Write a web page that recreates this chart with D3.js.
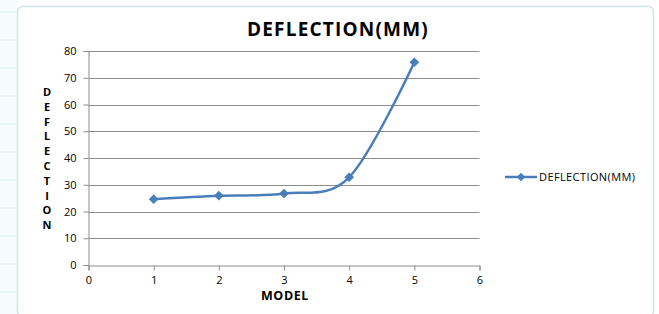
<!DOCTYPE html>
<html><head><meta charset="utf-8">
<script src="https://cdn.jsdelivr.net/npm/d3@7"></script>
<style>body{margin:0;background:#fff}svg{display:block}</style>
</head><body>
<script>
const categories = [1, 2, 3, 4, 5];
const deflection = [24.6, 25.9, 26.7, 32.8, 75.8];
const xTicks = [0, 1, 2, 3, 4, 5, 6];
const yTicks = [0, 10, 20, 30, 40, 50, 60, 70, 80];
const title = "DEFLECTION(MM)";
const seriesName = "DEFLECTION(MM)";
const xTitle = "MODEL";
const yTitle = "DEFLECTION";

const W = 659, H = 314;
const svg = d3.select("body").append("svg").attr("width", W).attr("height", H);

// spreadsheet background strip and chart frame
svg.append("rect").attr("x",0).attr("y",0).attr("width",W).attr("height",H).attr("fill","#fff");
svg.append("rect").attr("x",0).attr("y",0).attr("width",17).attr("height",H).attr("fill","#f6fbfb");
[12,40,68,96,124,152,180,208,236,264,292].forEach(y=>{
  svg.append("line").attr("x1",0).attr("x2",16).attr("y1",y).attr("y2",y).attr("stroke","#dcefef");
});
svg.append("rect").attr("x",17.5).attr("y",6.5).attr("width",636).attr("height",310)
  .attr("rx",5).attr("fill","#fff").attr("stroke","#cde6e6").attr("stroke-width",1.5);

const x = d3.scaleLinear().domain([0,6]).range([88.5,479.5]);
const y = d3.scaleLinear().domain([0,80]).range([265,51]);

const g = svg.append("g");
// gridlines
g.selectAll("line.grid").data(yTicks.filter(d=>d>0)).join("line")
  .attr("x1",x(0)).attr("x2",x(6)).attr("y1",d=>Math.round(y(d))+0.5).attr("y2",d=>Math.round(y(d))+0.5)
  .attr("stroke","#8c8c8c").attr("stroke-width",1);

// axes
const font = "'Open Sans', 'Liberation Sans', sans-serif";
const yAxis = g.append("g").attr("transform",`translate(${x(0)},0)`)
  .call(d3.axisLeft(y).tickValues(yTicks).tickFormat(d3.format("d")).tickSize(5).tickPadding(7));
const xAxis = g.append("g").attr("transform",`translate(0,${Math.round(y(0))+0.5})`)
  .call(d3.axisBottom(x).tickValues(xTicks).tickFormat(d3.format("d")).tickSize(5).tickPadding(6));
[xAxis,yAxis].forEach(a=>{
  a.select(".domain").attr("stroke","#8c8c8c");
  a.selectAll(".tick line").attr("stroke","#8c8c8c");
  a.selectAll("text").attr("font-family",font).attr("font-size",11).attr("fill","#000");
});

// line
const line = d3.line().x((d,i)=>x(categories[i])).y(d=>y(d)).curve(d3.curveCatmullRom.alpha(0));
g.append("path").datum(deflection).attr("d",line).attr("fill","none")
  .attr("stroke","#4a7ebb").attr("stroke-width",2.5);
const diamond = d3.symbol().type(d3.symbolDiamond2).size(60);
g.selectAll("path.pt").data(deflection).join("path")
  .attr("transform",(d,i)=>`translate(${x(categories[i])},${y(d)})`)
  .attr("d",diamond).attr("fill","#4a7ebb");

// title
svg.append("text").attr("x",338).attr("y",36).attr("text-anchor","middle")
  .attr("font-family",font).attr("font-weight","bold").attr("font-size",19)
  .attr("letter-spacing",1.2).text(title);
svg.append("text").attr("x",285).attr("y",300).attr("text-anchor","middle")
  .attr("font-family",font).attr("font-weight","bold").attr("font-size",12.5)
  .attr("letter-spacing",0.6).text(xTitle);
// vertical stacked y title
const yt = svg.append("text").attr("font-family",font).attr("font-weight","bold").attr("font-size",11)
  .attr("text-anchor","middle");
yTitle.split("").forEach((c,i)=>{
  yt.append("tspan").attr("x",47).attr("y",96+i*14.8).text(c);
});

// legend
const lg = svg.append("g").attr("transform","translate(505,177)");
lg.append("line").attr("x1",0).attr("x2",32).attr("stroke","#4a7ebb").attr("stroke-width",2.5);
lg.append("path").attr("transform","translate(16,0)").attr("d",d3.symbol().type(d3.symbolDiamond2).size(45)).attr("fill","#4a7ebb");
lg.append("text").attr("x",34).attr("y",4).attr("font-family",font).attr("font-size",11)
  .attr("letter-spacing",0.4).text(seriesName);
</script>
</body></html>
